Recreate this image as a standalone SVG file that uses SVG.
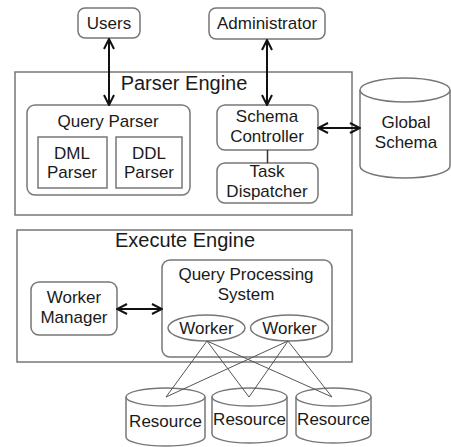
<svg xmlns="http://www.w3.org/2000/svg" width="451" height="447" viewBox="0 0 451 447">
<defs>
<marker id="ah" viewBox="0 0 12 12" refX="11" refY="6" markerWidth="12" markerHeight="12" markerUnits="userSpaceOnUse" orient="auto-start-reverse">
<path d="M1,1 L11,6 L1,11" fill="none" stroke="#111" stroke-width="2"/>
</marker>
</defs>
<style>
.bx{fill:#fff;stroke:#777;stroke-width:1.5}
.fr{fill:none;stroke:#777;stroke-width:1.5}
.t{font-family:"Liberation Sans",Arial,sans-serif;font-size:17px;fill:#1a1a1a;text-anchor:middle}
.tt{font-family:"Liberation Sans",Arial,sans-serif;font-size:20px;fill:#1a1a1a;text-anchor:middle}
.ar{stroke:#111;stroke-width:2;fill:none;marker-start:url(#ah);marker-end:url(#ah)}
.ln{stroke:#555;stroke-width:1;fill:none}
</style>
<rect width="451" height="447" fill="#fff"/>
<g id="parser-engine">
<rect class="fr" x="15" y="72" width="337" height="143"/>
<text class="tt" x="184" y="90">Parser Engine</text>
</g>
<g id="execute-engine">
<rect class="fr" x="17" y="230" width="335" height="132"/>
<text class="tt" x="185" y="247">Execute Engine</text>
</g>
<g id="users">
<rect class="bx" x="78" y="8" width="62" height="30" rx="7"/>
<text class="t" x="109" y="29">Users</text>
</g>
<g id="administrator">
<rect class="bx" x="209" y="8" width="116" height="31" rx="7"/>
<text class="t" x="267" y="29">Administrator</text>
</g>
<g id="query-parser">
<rect class="bx" x="27" y="105" width="163" height="90" rx="8"/>
<text class="t" x="108" y="127">Query Parser</text>
</g>
<g id="dml-parser">
<rect class="bx" x="38" y="137" width="69" height="51"/>
<text class="t" x="72" y="159">DML</text>
<text class="t" x="72" y="178">Parser</text>
</g>
<g id="ddl-parser">
<rect class="bx" x="116" y="137" width="66" height="51"/>
<text class="t" x="149" y="159">DDL</text>
<text class="t" x="149" y="178">Parser</text>
</g>
<g id="schema-controller">
<rect class="bx" x="217" y="105" width="101" height="45" rx="8"/>
<text class="t" x="267" y="122">Schema</text>
<text class="t" x="267" y="142">Controller</text>
</g>
<g id="task-dispatcher">
<rect class="bx" x="217" y="163" width="101" height="40" rx="8"/>
<text class="t" x="267" y="177">Task</text>
<text class="t" x="267" y="197">Dispatcher</text>
</g>
<g id="global-schema">
<path class="bx" d="M360,90 L360,166 A45,12 0 0 0 450,166 L450,90"/>
<ellipse class="bx" cx="405" cy="90" rx="45" ry="12"/>
<text class="t" x="406" y="128">Global</text>
<text class="t" x="406" y="148">Schema</text>
</g>
<g id="worker-manager">
<rect class="bx" x="31" y="282" width="86" height="53" rx="8"/>
<text class="t" x="74" y="303">Worker</text>
<text class="t" x="74" y="323">Manager</text>
</g>
<g id="query-processing-system">
<rect class="bx" x="162" y="260" width="170" height="97" rx="8"/>
<text class="t" x="246" y="280">Query Processing</text>
<text class="t" x="246" y="300">System</text>
</g>
<g id="worker-1">
<ellipse class="bx" cx="206.5" cy="328" rx="38.5" ry="13"/>
<text class="t" x="206.5" y="334">Worker</text>
</g>
<g id="worker-2">
<ellipse class="bx" cx="289.5" cy="328" rx="39" ry="13"/>
<text class="t" x="289.5" y="334">Worker</text>
</g>
<g id="resource-1">
<path class="bx" d="M126,397 L126,437 A39.5,9 0 0 0 205,437 L205,397"/>
<ellipse class="bx" cx="165.5" cy="397" rx="39.5" ry="9"/>
<text class="t" x="165.5" y="427">Resource</text>
</g>
<g id="resource-2">
<path class="bx" d="M212,397 L212,434 A37.5,9 0 0 0 287,434 L287,397"/>
<ellipse class="bx" cx="249.5" cy="397" rx="37.5" ry="9"/>
<text class="t" x="249.5" y="425">Resource</text>
</g>
<g id="resource-3">
<path class="bx" d="M296,397 L296,434 A37.5,9 0 0 0 371,434 L371,397"/>
<ellipse class="bx" cx="333.5" cy="397" rx="37.5" ry="9"/>
<text class="t" x="333.5" y="425">Resource</text>
</g>
<g id="connectors">
<line class="ar" x1="109" y1="39" x2="109" y2="105"/>
<line class="ar" x1="267" y1="40" x2="267" y2="105"/>
<line class="ar" x1="318" y1="128" x2="360" y2="128"/>
<line class="ar" x1="117" y1="309" x2="162" y2="309"/>
<line x1="267.5" y1="150" x2="267.5" y2="163" stroke="#333" stroke-width="1.5"/>
<line class="ln" x1="207" y1="341" x2="166" y2="397"/>
<line class="ln" x1="207" y1="341" x2="249" y2="397"/>
<line class="ln" x1="207" y1="341" x2="332" y2="397"/>
<line class="ln" x1="288" y1="341" x2="166" y2="397"/>
<line class="ln" x1="288" y1="341" x2="249" y2="397"/>
<line class="ln" x1="288" y1="341" x2="332" y2="397"/>
</g>
</svg>
